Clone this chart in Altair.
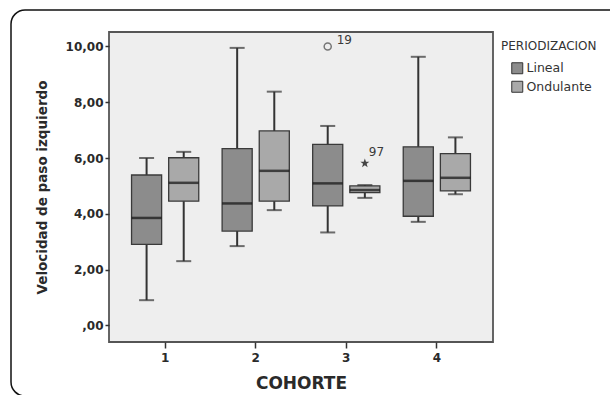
import altair as alt
import pandas as pd

# ---- data ----
cohortes = ["1", "2", "3", "4"]
grupos = ["Lineal", "Ondulante"]
# order: (1,L) (1,O) (2,L) (2,O) (3,L) (3,O) (4,L) (4,O)
bigote_inf = [0.90, 2.30, 2.84, 4.13, 3.33, 4.57, 3.71, 4.70]
q1 =         [2.90, 4.45, 3.38, 4.45, 4.28, 4.76, 3.91, 4.82]
mediana =    [3.85, 5.11, 4.37, 5.54, 5.09, 4.85, 5.18, 5.29]
q3 =         [5.39, 6.01, 6.34, 6.97, 6.49, 5.00, 6.40, 6.16]
bigote_sup = [6.00, 6.22, 9.95, 8.38, 7.15, 5.03, 9.63, 6.74]

atip_cohorte = ["3", "3"]
atip_grupo = ["Lineal", "Ondulante"]
atip_valor = [10.0, 5.81]
atip_caso = ["19", "97"]
atip_tipo = ["circulo", "estrella"]

colores = ["#8c8c8c", "#a9a9a9"]

rows = []
i = 0
for c in cohortes:
    for g in grupos:
        rows.append(dict(COHORTE=c, PERIODIZACION=g, lo=bigote_inf[i], q1=q1[i],
                         med=mediana[i], q3=q3[i], hi=bigote_sup[i]))
        i += 1
df = pd.DataFrame(rows)
out = pd.DataFrame(dict(COHORTE=atip_cohorte, PERIODIZACION=atip_grupo,
                        v=atip_valor, caso=atip_caso, tipo=atip_tipo))

FONT = "DejaVu Sans"

xs = alt.X("COHORTE:N", sort=cohortes,
           scale=alt.Scale(paddingInner=0.18, paddingOuter=0.21),
           axis=alt.Axis(title="COHORTE", labelAngle=0, tickSize=6, labelPadding=4,
                         titleFontSize=17, titlePadding=12, domain=False))
xo = alt.XOffset("PERIODIZACION:N", sort=grupos,
                 scale=alt.Scale(paddingInner=0.19, paddingOuter=0.095))
yscale = alt.Scale(domain=[-0.6, 10.52], nice=False, zero=False)
ys = alt.Y("lo:Q", scale=yscale,
           axis=alt.Axis(title="Velocidad de paso izquierdo", values=[0, 2, 4, 6, 8, 10],
                         labelExpr="datum.value == 0 ? ',00' : replace(format(datum.value, '.2f'), '.', ',')",
                         tickSize=4, labelPadding=2, titleFontSize=13.5, titlePadding=16,
                         domain=False))

base = alt.Chart(df)

whisk = base.mark_rule(color="#333333", strokeWidth=2).encode(
    x=xs, xOffset=xo, y=ys, y2="hi:Q")

box = base.mark_bar(stroke="#3a3a3a", strokeWidth=1.3).encode(
    x=xs, xOffset=xo, y=alt.Y("q1:Q", scale=yscale), y2="q3:Q",
    fill=alt.Fill("PERIODIZACION:N", sort=grupos,
                  scale=alt.Scale(domain=grupos, range=colores),
                  legend=alt.Legend(title="PERIODIZACION", symbolType="square",
                                    symbolStrokeColor="#333333", symbolStrokeWidth=1,
                                    symbolSize=121, symbolOffset=10,
                                    orient="none", legendX=392, legendY=9)))

med = base.mark_tick(color="#111111", size=30, thickness=2.5).encode(
    x=xs, xOffset=xo, y=alt.Y("med:Q", scale=yscale))
cap_lo = base.mark_tick(color="#333333", size=15, thickness=2).encode(
    x=xs, xOffset=xo, y=alt.Y("lo:Q", scale=yscale))
cap_hi = base.mark_tick(color="#333333", size=15, thickness=2).encode(
    x=xs, xOffset=xo, y=alt.Y("hi:Q", scale=yscale))

ob = alt.Chart(out)
circ = ob.transform_filter(alt.datum.tipo == "circulo").mark_point(
    shape="circle", size=50, strokeWidth=1.5, color="#444444", filled=False).encode(
    x=xs, xOffset=xo, y=alt.Y("v:Q", scale=yscale))
star_path = "M0,-1L0.24,-0.33L0.95,-0.31L0.38,0.12L0.59,0.81L0,0.4L-0.59,0.81L-0.38,0.12L-0.95,-0.31L-0.24,-0.33Z"
star = ob.transform_filter(alt.datum.tipo == "estrella").mark_point(
    shape=star_path, size=90, filled=True, color="#444444", opacity=1).encode(
    x=xs, xOffset=xo, y=alt.Y("v:Q", scale=yscale))
lab19 = ob.transform_filter(alt.datum.tipo == "circulo").mark_text(
    align="left", dx=9, dy=-6, fontSize=12, fill="#3a3a3a", font=FONT).encode(
    x=xs, xOffset=xo, y=alt.Y("v:Q", scale=yscale), text="caso:N")
lab97 = ob.transform_filter(alt.datum.tipo == "estrella").mark_text(
    align="left", dx=4, dy=-11, fontSize=12, fill="#3a3a3a", font=FONT).encode(
    x=xs, xOffset=xo, y=alt.Y("v:Q", scale=yscale), text="caso:N")

border = alt.Chart(pd.DataFrame({"k": [0]})).mark_rect(
    fill=None, stroke="#111111", strokeWidth=1.5, cornerRadius=14).encode(
    x=alt.value(-98), x2=alt.value(540), y=alt.value(-22), y2=alt.value(364))

chart = alt.layer(border, whisk, box, med, cap_lo, cap_hi, circ, star, lab19, lab97).properties(
    width=384, height=310,
    autosize=alt.AutoSizeParams(type="none"),
    padding={"left": 109, "top": 32, "right": 117, "bottom": 53},
    background="white",
).configure_view(
    fill="#eeeeee", stroke="#555555", strokeWidth=1.8
).configure_axis(
    labelFont=FONT, titleFont=FONT,
    labelFontWeight="bold", titleFontWeight="bold", labelFontSize=12,
    labelColor="#2a2a2a", titleColor="#2a2a2a", tickColor="#333333", tickWidth=1.5,
    grid=False
).configure_legend(
    titleFont=FONT, labelFont=FONT,
    titleFontSize=12, titleFontWeight="normal", titleColor="#333333",
    labelFontSize=12.5, labelColor="#333333", rowPadding=2.5, titlePadding=9,
    labelOffset=3
)

chart.save("out.html", embed_options={"renderer": "svg", "actions": False})
